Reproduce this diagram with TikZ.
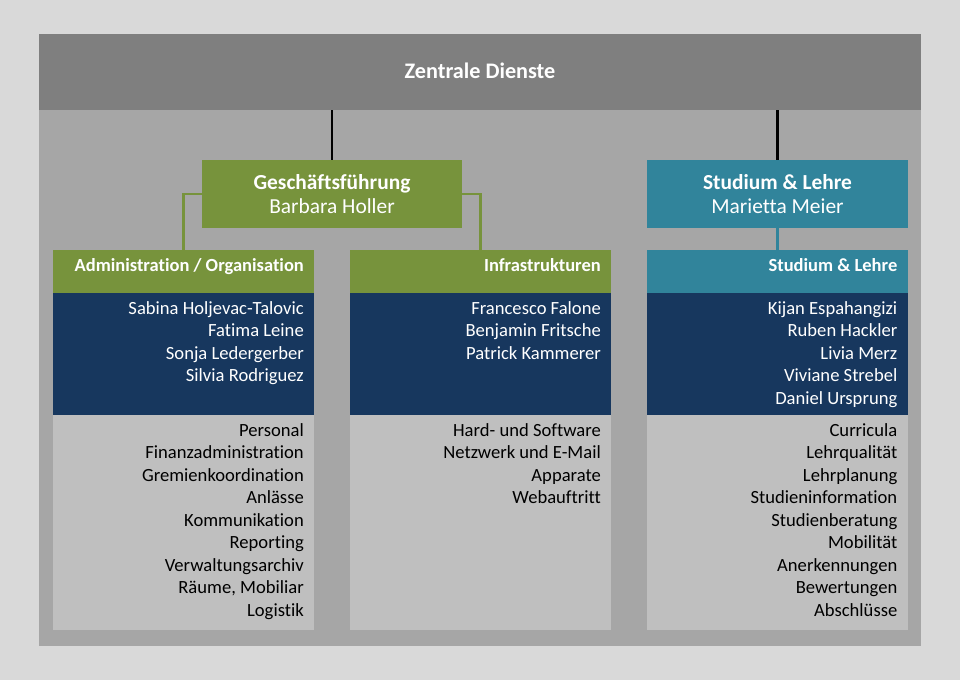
\documentclass[tikz,border=0pt]{standalone}
\usepackage{fontspec}
\setmainfont{Carlito}[Ligatures=NoCommon]
\definecolor{bgc}{HTML}{D9D9D9}
\definecolor{panelc}{HTML}{A6A6A6}
\definecolor{hdrc}{HTML}{7F7F7F}
\definecolor{greenc}{HTML}{77933C}
\definecolor{tealc}{HTML}{31849B}
\definecolor{navyc}{HTML}{17375E}
\definecolor{lightc}{HTML}{BFBFBF}
\begin{document}
\begin{tikzpicture}[x=1pt,y=-1pt,
  box/.style={inner sep=0pt,outer sep=0pt,anchor=north west,draw=none},
  bigt/.style={inner sep=0pt,anchor=base,text=white,font=\fontsize{21.4}{24}\selectfont},
  bigb/.style={bigt,font=\bfseries\fontsize{21.4}{24}\selectfont},
  colt/.style={inner sep=0pt,anchor=base east,text=white,font=\bfseries\fontsize{18.5}{20}\selectfont},
  namet/.style={inner sep=0pt,anchor=base east,text=white,font=\fontsize{18.6}{20}\selectfont},
  itemt/.style={inner sep=0pt,anchor=base east,text=black,font=\fontsize{18.6}{20}\selectfont},
  conn/.style={line width=2.7pt}]
\fill[bgc] (0,0) rectangle (960,680);
\useasboundingbox (0,0) rectangle (960,680);
% panel and header
\node[box,fill=panelc,minimum width=882pt,minimum height=612pt] (panel) at (39,34) {};
\node[box,fill=hdrc,minimum width=882pt,minimum height=76pt] (hdr) at (39,34) {};
\node[bigt,font=\bfseries\fontsize{22.2}{24}\selectfont] (hdrt) at (480,78.3) {Zentrale Dienste};
% top boxes
\node[box,fill=greenc,minimum width=260pt,minimum height=68pt] (gf) at (202,160) {};
\node[box,fill=tealc,minimum width=261pt,minimum height=68pt] (sl) at (647,160) {};
% column boxes
\node[box,fill=greenc,minimum width=261pt,minimum height=43pt] (c1h) at (53,250) {};
\node[box,fill=navyc,minimum width=261pt,minimum height=122pt] (c1n) at (53,293) {};
\node[box,fill=lightc,minimum width=261pt,minimum height=215pt] (c1i) at (53,415) {};
\node[box,fill=greenc,minimum width=261pt,minimum height=43pt] (c2h) at (350,250) {};
\node[box,fill=navyc,minimum width=261pt,minimum height=122pt] (c2n) at (350,293) {};
\node[box,fill=lightc,minimum width=261pt,minimum height=215pt] (c2i) at (350,415) {};
\node[box,fill=tealc,minimum width=261pt,minimum height=43pt] (c3h) at (647,250) {};
\node[box,fill=navyc,minimum width=261pt,minimum height=122pt] (c3n) at (647,293) {};
\node[box,fill=lightc,minimum width=261pt,minimum height=215pt] (c3i) at (647,415) {};
% connectors
\draw[conn,black] (hdr.south -| gf.north) -- (gf.north);
\draw[conn,black] (hdr.south -| sl.north) -- (sl.north);
\draw[line width=2.5pt,greenc] (gf.west) -| (c1h.north);
\draw[line width=2.5pt,greenc] (gf.east) -| (c2h.north);
\draw[line width=2.5pt,tealc] (sl.south) -- (c3h.north);
% top box texts
\node[bigb] (gft1) at (332,189) {Geschäftsführung};
\node[bigt] (gft2) at (332,213.7) {Barbara Holler};
\node[bigb] (slt1) at (777.5,189) {Studium \& Lehre};
\node[bigt] (slt2) at (777.5,213.7) {Marietta Meier};
% column headers
\node[colt] (c1ht) at (304,271.7) {Administration / Organisation};
\node[colt] (c2ht) at (601,271.7) {Infrastrukturen};
\node[colt] (c3ht) at (897.5,271.7) {Studium \& Lehre};
% names
\node[namet] (n11) at (304,314) {Sabina Holjevac-Talovic};
\node[namet] (n12) at (304,336.5) {Fatima Leine};
\node[namet] (n13) at (304,359) {Sonja Ledergerber};
\node[namet] (n14) at (304,381.5) {Silvia Rodriguez};
\node[namet] (n21) at (601,314) {Francesco Falone};
\node[namet] (n22) at (601,336.5) {Benjamin Fritsche};
\node[namet] (n23) at (601,359) {Patrick Kammerer};
\node[namet] (n31) at (897.5,314) {Kijan Espahangizi};
\node[namet] (n32) at (897.5,336.5) {Ruben Hackler};
\node[namet] (n33) at (897.5,359) {Livia Merz};
\node[namet] (n34) at (897.5,381.5) {Viviane Strebel};
\node[namet] (n35) at (897.5,404) {Daniel Ursprung};
% items
\node[itemt] (i11) at (304,436) {Personal};
\node[itemt] (i12) at (304,458.5) {Finanzadministration};
\node[itemt] (i13) at (304,481) {Gremienkoordination};
\node[itemt] (i14) at (304,503.5) {Anlässe};
\node[itemt] (i15) at (304,526) {Kommunikation};
\node[itemt] (i16) at (304,548.5) {Reporting};
\node[itemt] (i17) at (304,571) {Verwaltungsarchiv};
\node[itemt] (i18) at (304,593.5) {Räume, Mobiliar};
\node[itemt] (i19) at (304,616) {Logistik};
\node[itemt] (i21) at (601,436) {Hard- und Software};
\node[itemt] (i22) at (601,458.5) {Netzwerk und E-Mail};
\node[itemt] (i23) at (601,481) {Apparate};
\node[itemt] (i24) at (601,503.5) {Webauftritt};
\node[itemt] (i31) at (897.5,436) {Curricula};
\node[itemt] (i32) at (897.5,458.5) {Lehrqualität};
\node[itemt] (i33) at (897.5,481) {Lehrplanung};
\node[itemt] (i34) at (897.5,503.5) {Studieninformation};
\node[itemt] (i35) at (897.5,526) {Studienberatung};
\node[itemt] (i36) at (897.5,548.5) {Mobilität};
\node[itemt] (i37) at (897.5,571) {Anerkennungen};
\node[itemt] (i38) at (897.5,593.5) {Bewertungen};
\node[itemt] (i39) at (897.5,616) {Abschlüsse};
\end{tikzpicture}
\end{document}
